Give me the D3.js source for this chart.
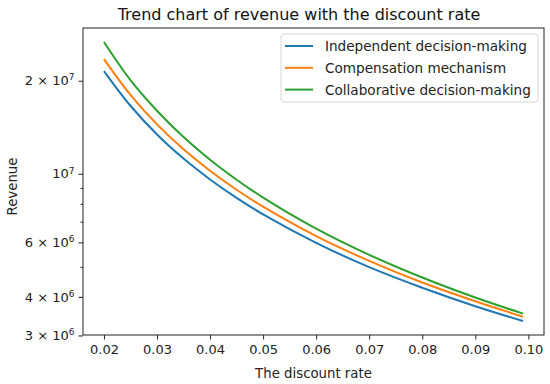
<!DOCTYPE html>
<html>
<head>
<meta charset="utf-8">
<script src="https://cdn.jsdelivr.net/npm/d3@7"></script>
<style>
  body { margin: 0; background: #fff; }
  svg { font-family: "DejaVu Sans", sans-serif; }
</style>
</head>
<body>
<svg id="chart" width="550" height="384"></svg>
<script>
// values (revenue in units)
var RATES = [0.02, 0.025, 0.03, 0.035, 0.04, 0.045, 0.05, 0.06, 0.07, 0.08, 0.09, 0.099];
var INDEPENDENT = [21.5e6, 16.6e6, 13.4e6, 11.2e6, 9.59e6, 8.36e6, 7.39e6, 5.98e6, 4.99e6, 4.28e6, 3.73e6, 3.34e6];
var COMPENSATION = [23.5e6, 18.0e6, 14.45e6, 12.0e6, 10.23e6, 8.88e6, 7.83e6, 6.29e6, 5.23e6, 4.45e6, 3.87e6, 3.45e6];
var COLLABORATIVE = [26.7e6, 20.1e6, 16.0e6, 13.15e6, 11.1e6, 9.57e6, 8.38e6, 6.65e6, 5.47e6, 4.62e6, 3.98e6, 3.53e6];
var SERIES_NAMES = ["Independent decision-making", "Compensation mechanism", "Collaborative decision-making"];

var X_TICKS = [0.02, 0.03, 0.04, 0.05, 0.06, 0.07, 0.08, 0.09, 0.10];
var Y_TICKS = [3e6, 4e6, 6e6, 1e7, 2e7];
var Y_TICK_LABELS = [["3", "6"], ["4", "6"], ["6", "6"], ["", "7"], ["2", "7"]];
var Y_MINOR = [5e6, 7e6, 8e6, 9e6];

var WIDTH = 550, HEIGHT = 384;
var margin = {top: 28, right: 6, bottom: 49, left: 83};
var color = ["#1f77b4", "#ff7f0e", "#2ca02c"];

var series = [INDEPENDENT, COMPENSATION, COLLABORATIVE].map(function(vals, i) {
  return {name: SERIES_NAMES[i], values: vals.map(function(v, j) { return {x: RATES[j], y: v}; })};
});

var svg = d3.select("#chart");

// matplotlib-like 5% padding (log space for y)
var xMin = d3.min(RATES), xMax = d3.max(RATES), xPad = (xMax - xMin) * 0.05;
var allY = INDEPENDENT.concat(COMPENSATION, COLLABORATIVE);
var lyMin = Math.log10(d3.min(allY)), lyMax = Math.log10(d3.max(allY)), lyPad = (lyMax - lyMin) * 0.05;

var x = d3.scaleLinear()
  .domain([xMin - xPad, xMax + xPad])
  .range([margin.left, WIDTH - margin.right]);

var y = d3.scaleLog()
  .domain([Math.pow(10, lyMin - lyPad), Math.pow(10, lyMax + lyPad)])
  .range([HEIGHT - margin.bottom, margin.top]);

// lines
var line = d3.line()
  .x(function(d) { return x(d.x); })
  .y(function(d) { return y(d.y); })
  .curve(d3.curveCatmullRom.alpha(0.5));

svg.append("g").selectAll("path")
  .data(series)
  .enter()
  .append("path")
  .attr("d", function(d) { return line(d.values); })
  .attr("fill", "none")
  .attr("stroke", function(d, i) { return color[i]; })
  .attr("stroke-width", 2);

// x axis
var xAxis = svg.append("g")
  .attr("transform", "translate(0," + (HEIGHT - margin.bottom) + ")")
  .call(d3.axisBottom(x).tickValues(X_TICKS).tickSize(4.5).tickPadding(5).tickFormat(d3.format(".2f")));
xAxis.select(".domain").remove();
xAxis.selectAll("text").attr("font-size", "13px").attr("fill", "#222").attr("font-family", "DejaVu Sans");
xAxis.selectAll("line").attr("stroke", "#222");

// y axis, major + labelled minors
var yAxis = svg.append("g")
  .attr("transform", "translate(" + margin.left + ",0)")
  .call(d3.axisLeft(y).tickValues(Y_TICKS).tickSize(4.5).tickPadding(4).tickFormat(""));
yAxis.select(".domain").remove();
yAxis.selectAll("line").attr("stroke", "#222");
yAxis.selectAll(".tick text").each(function(d, i) {
  var t = d3.select(this)
    .attr("font-size", "13px")
    .attr("fill", "#222")
    .attr("font-family", "DejaVu Sans");
  var lab = Y_TICK_LABELS[i];
  t.append("tspan").text((lab[0] ? lab[0] + " \u00d7 " : "") + "10");
  t.append("tspan").attr("font-size", "9px").attr("dy", "-0.55em").text(lab[1]);
});

var yMinor = svg.append("g")
  .attr("transform", "translate(" + margin.left + ",0)")
  .call(d3.axisLeft(y).tickValues(Y_MINOR).tickSize(2.5).tickFormat(""));
yMinor.select(".domain").remove();
yMinor.selectAll("line").attr("stroke", "#222");

// frame
svg.append("rect")
  .attr("x", margin.left)
  .attr("y", margin.top)
  .attr("width", WIDTH - margin.left - margin.right)
  .attr("height", HEIGHT - margin.top - margin.bottom)
  .attr("fill", "none")
  .attr("stroke", "#222")
  .attr("stroke-width", 1);

// title and axis labels
svg.append("text")
  .attr("x", 299)
  .attr("y", 20)
  .attr("text-anchor", "middle")
  .attr("font-size", "16px")
  .attr("fill", "#111")
  .text("Trend chart of revenue with the discount rate");

svg.append("text")
  .attr("x", (margin.left + WIDTH - margin.right) / 2)
  .attr("y", 378)
  .attr("text-anchor", "middle")
  .attr("font-size", "13.3px")
  .attr("fill", "#222")
  .text("The discount rate");

svg.append("text")
  .attr("transform", "translate(17," + ((margin.top + HEIGHT - margin.bottom) / 2 + 5) + ") rotate(-90)")
  .attr("text-anchor", "middle")
  .attr("font-size", "13.3px")
  .attr("fill", "#222")
  .text("Revenue");

// legend
var legend = svg.append("g").attr("transform", "translate(281,34)");
legend.append("rect")
  .attr("width", 257)
  .attr("height", 68)
  .attr("rx", 3)
  .attr("fill", "#fff")
  .attr("stroke", "#d6d6d6");

var item = legend.selectAll(".item")
  .data(series)
  .enter()
  .append("g")
  .attr("class", "item")
  .attr("transform", function(d, i) { return "translate(0," + (12 + i * 21.8) + ")"; });

item.append("line")
  .attr("x1", 4).attr("x2", 32)
  .attr("stroke", function(d, i) { return color[i]; })
  .attr("stroke-width", 2);

item.append("text")
  .attr("x", 44)
  .attr("dy", "0.36em")
  .attr("font-size", "13.6px")
  .attr("fill", "#222")
  .text(function(d) { return d.name; });
</script>
</body>
</html>
